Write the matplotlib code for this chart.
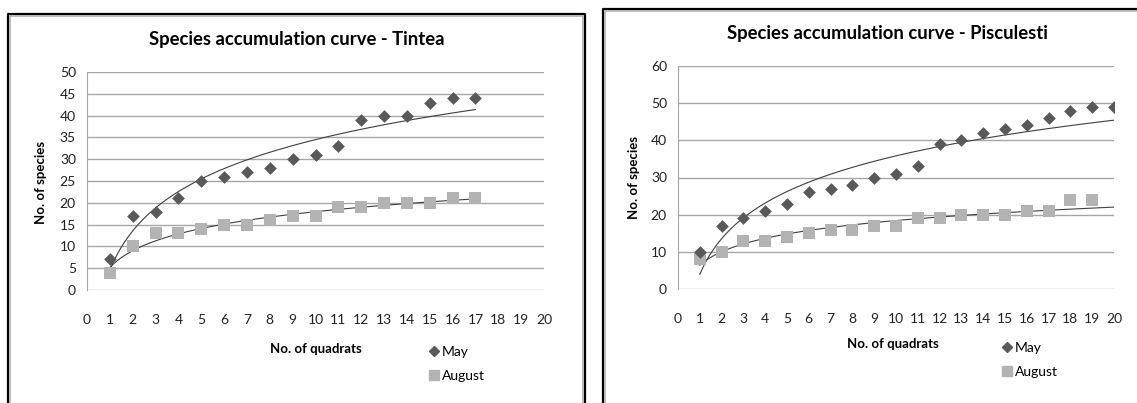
import numpy as np
import matplotlib
matplotlib.use("Agg")
import matplotlib.pyplot as plt
from matplotlib.lines import Line2D

plt.rcParams['font.family'] = ['Lato', 'DejaVu Sans']

# Tintea
tintea_x = list(range(1, 18))
tintea_may = [7, 17, 18, 21, 25, 26, 27, 28, 30, 31, 33, 39, 40, 40, 43, 44, 44]
tintea_aug = [4, 10, 13, 13, 14, 15, 15, 16, 17, 17, 19, 19, 20, 20, 20, 21, 21]

# Pisculesti
pisc_x_may = list(range(1, 21))
pisc_may = [10, 17, 19, 21, 23, 26, 27, 28, 30, 31, 33, 39, 40, 42, 43, 44, 46, 48, 49, 49]
pisc_x_aug = list(range(1, 20))
pisc_aug = [8, 10, 13, 13, 14, 15, 16, 16, 17, 17, 19, 19, 20, 20, 20, 21, 21, 24, 24]

titles = ["Species accumulation curve - Tintea", "Species accumulation curve - Pisculesti"]

MAY_C = '#595959'
AUG_C = '#b3b3b3'
GRID_C = '#a6a6a6'


def log_trend(ax, x, y, x_end):
    a, b = np.polyfit(np.log(x), y, 1)
    xs = np.linspace(1, x_end, 200)
    ax.plot(xs, a * np.log(xs) + b, color='#404040', lw=0.8, zorder=2)


def setup(ax, ymax, ystep, title, title_xy, ylab_xy, xlab_xy, leg_xy):
    ax.set_xlim(0, 20)
    ax.set_ylim(0, ymax)
    ax.set_xticks(range(0, 21))
    ax.set_yticks(np.arange(0, ymax + 1, ystep))
    ax.grid(axis='y', color=GRID_C, lw=1)
    ax.set_axisbelow(True)
    for s in ['top', 'right', 'bottom']:
        ax.spines[s].set_visible(False)
    ax.spines['left'].set_color(GRID_C)
    ax.tick_params(axis='both', length=0, labelsize=10, colors='#222222')
    ax.tick_params(axis='x', pad=17)
    ax.tick_params(axis='y', pad=8)
    fig.text(*title_xy, title, ha='center', va='center', fontsize=13.3, fontweight='bold')
    fig.text(*ylab_xy, 'No. of species', ha='center', va='center', rotation=90,
             fontsize=9.5, fontweight='bold')
    fig.text(*xlab_xy, 'No. of quadrats', ha='center', va='center', fontsize=9.5, fontweight='bold')
    handles = [Line2D([], [], ls='', marker='D', ms=5.5, color=MAY_C),
               Line2D([], [], ls='', marker='s', ms=7.5, color=AUG_C)]
    fig.legend(handles, ['May', 'August'], loc='upper left', bbox_to_anchor=leg_xy,
               frameon=False, fontsize=10, handletextpad=0.0, labelspacing=0.9,
               handlelength=1.2, borderaxespad=0)


W, H = 1137, 403
fig = plt.figure(figsize=(W / 100, H / 100), dpi=100)

ax1 = fig.add_axes([87 / W, 1 - 290 / H, (544 - 87) / W, (290 - 72) / H])
ax1.scatter(tintea_x, tintea_aug, marker='s', s=70, color=AUG_C, zorder=3, linewidths=0)
ax1.scatter(tintea_x, tintea_may, marker='D', s=42, color=MAY_C, zorder=3, linewidths=0)
log_trend(ax1, tintea_x, tintea_may, 17)
log_trend(ax1, tintea_x, tintea_aug, 17)
setup(ax1, 50, 5, titles[0], (297 / W, 1 - 40 / H), (41 / W, 1 - 182 / H),
      (316 / W, 1 - 349 / H), (420 / W, 1 - 340 / H))

ax2 = fig.add_axes([678 / W, 1 - 289 / H, (1114 - 678) / W, (289 - 66) / H])
ax2.scatter(pisc_x_aug, pisc_aug, marker='s', s=70, color=AUG_C, zorder=3, linewidths=0)
ax2.scatter(pisc_x_may, pisc_may, marker='D', s=42, color=MAY_C, zorder=3, linewidths=0)
log_trend(ax2, pisc_x_may, pisc_may, 20)
log_trend(ax2, pisc_x_aug, pisc_aug, 20)
setup(ax2, 60, 10, titles[1], (887 / W, 1 - 34 / H), (634 / W, 1 - 178 / H),
      (893 / W, 1 - 344 / H), (993 / W, 1 - 336 / H))

# chart frames (black edge with grey inner line)
def frame(x0, y0, x1, y1):
    for off, c, lw in [(0, 'black', 1.6), (2, '#b0b0b0', 1.2)]:
        xs = [(x0 + off) / W, (x0 + off) / W, (x1 - off) / W, (x1 - off) / W]
        ys = [1 - (y1) / H, 1 - (y0 + off) / H, 1 - (y0 + off) / H, 1 - (y1) / H]
        fig.add_artist(Line2D(xs, ys, color=c, lw=lw, transform=fig.transFigure))

frame(8, 14, 585, 410)
frame(603, 9, 1145, 410)

fig.savefig('out.png', dpi=100)
